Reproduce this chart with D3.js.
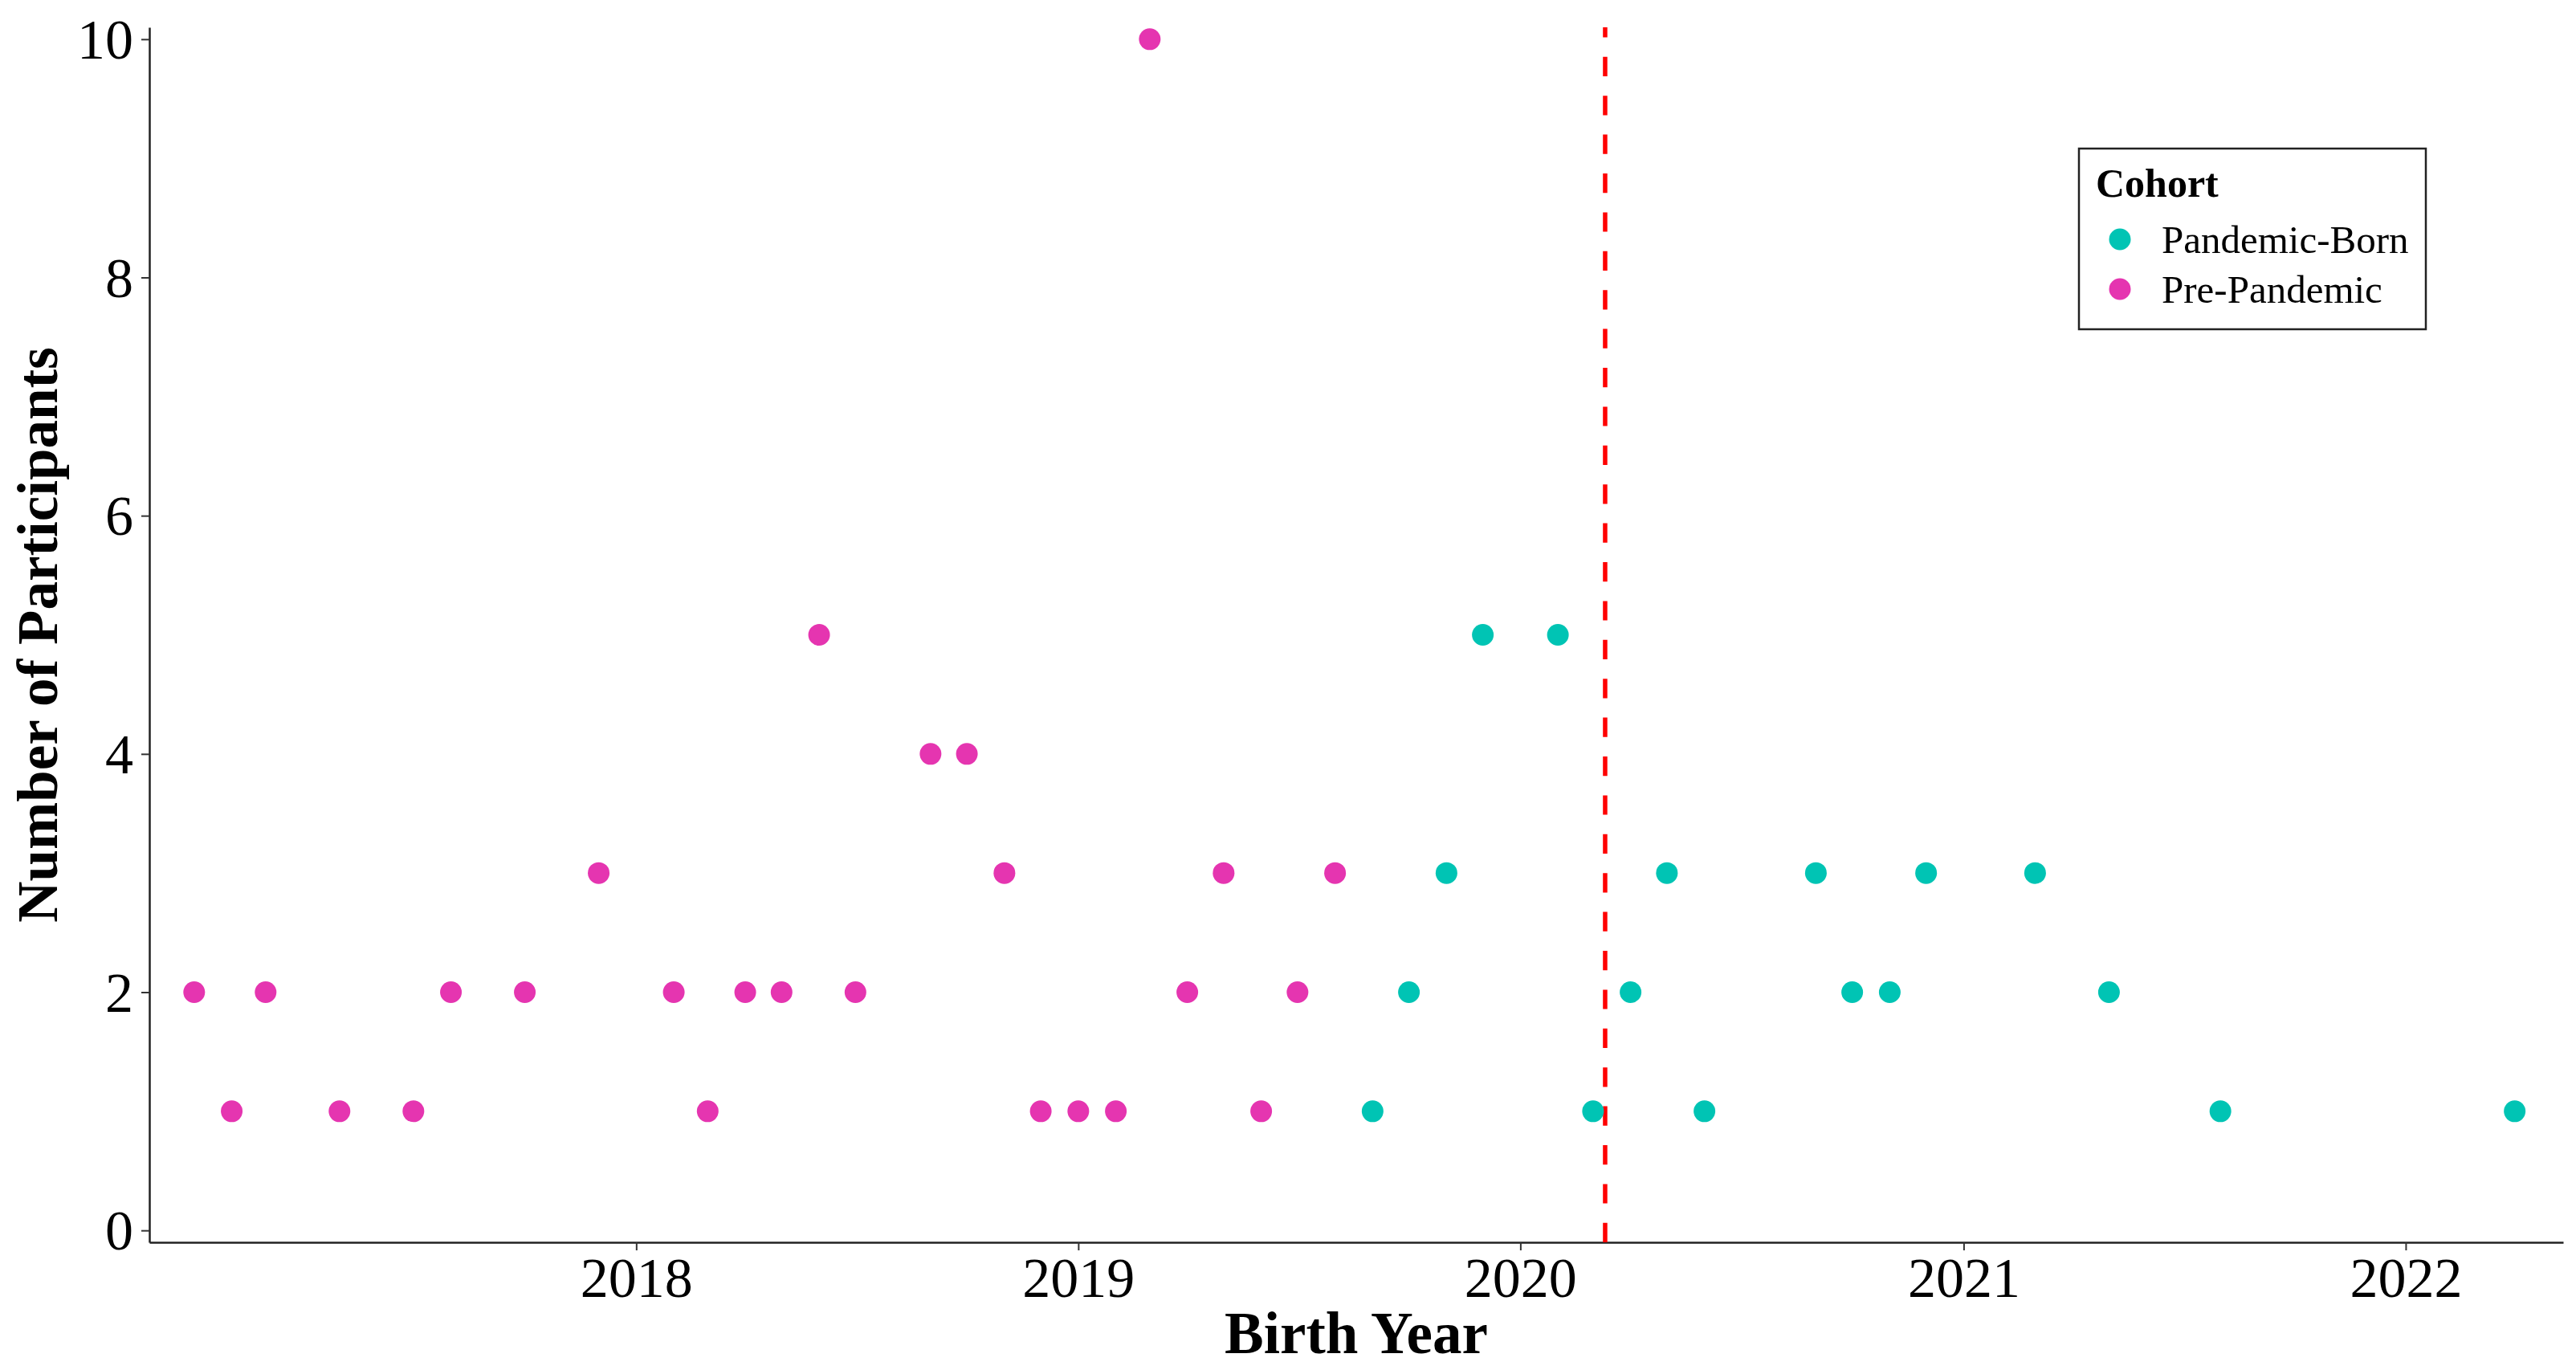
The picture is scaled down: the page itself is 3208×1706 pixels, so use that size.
<!DOCTYPE html>
<html>
<head>
<meta charset="utf-8">
<script src="https://cdn.jsdelivr.net/npm/d3@7"></script>
<style>
  body { margin: 0; background: #fff; }
  svg { display: block; font-family: "Liberation Serif", "Times New Roman", serif; }
</style>
</head>
<body>
<svg id="chart"></svg>
<script>
// Pre-pandemic births (month, number of participants)
const preMonths = [
  "2017-01", "2017-02", "2017-03", "2017-05", "2017-07", "2017-08", "2017-10", "2017-12",
  "2018-02", "2018-03", "2018-04", "2018-05", "2018-06", "2018-07", "2018-09", "2018-10",
  "2018-11", "2018-12", "2019-01", "2019-02", "2019-03", "2019-04", "2019-05", "2019-06",
  "2019-07", "2019-08"
];
const preCounts = [2, 1, 2, 1, 1, 2, 2, 3, 2, 1, 2, 2, 5, 2, 4, 4, 3, 1, 1, 1, 10, 2, 3, 1, 2, 3];

// Pandemic-born births
const pandemicMonths = [
  "2019-09", "2019-10", "2019-11", "2019-12", "2020-02", "2020-03", "2020-04", "2020-05",
  "2020-06", "2020-09", "2020-10", "2020-11", "2020-12", "2021-03", "2021-05", "2021-08",
  "2022-04"
];
const pandemicCounts = [1, 2, 3, 5, 5, 1, 2, 3, 1, 3, 2, 2, 3, 3, 2, 1, 1];

const cohortNames = ["Pandemic-Born", "Pre-Pandemic"];
const cohortColors = ["#00C4B4", "#E535B0"];
const xTickYears = [2018, 2019, 2020, 2021, 2022];
const yTicks = [0, 2, 4, 6, 8, 10];
const pandemicStart = "2020-03-11";

const width = 3208;
const height = 1706;
const margin = { top: 34, right: 16, bottom: 159, left: 186 };

const parseMonth = d3.timeParse("%Y-%m");
const parseDay = d3.timeParse("%Y-%m-%d");

const points = [
  ...preMonths.map((m, i) => ({ date: parseMonth(m), n: preCounts[i], cohort: cohortNames[1] })),
  ...pandemicMonths.map((m, i) => ({ date: parseMonth(m), n: pandemicCounts[i], cohort: cohortNames[0] }))
];

const svg = d3.select("#chart").attr("width", width).attr("height", height);

const x = d3
  .scaleTime()
  .domain([parseDay("2016-11-25"), parseDay("2022-05-11")])
  .range([margin.left, width - margin.right]);

const y = d3
  .scaleLinear()
  .domain([-0.1, 10.1])
  .range([height - margin.bottom, margin.top]);

const color = d3.scaleOrdinal().domain(cohortNames).range(cohortColors);

// Axes
const xAxis = svg
  .append("g")
  .attr("transform", `translate(0, ${height - margin.bottom})`)
  .call(
    d3.axisBottom(x)
      .tickValues(xTickYears.map((yr) => new Date(yr, 0, 1)))
      .tickFormat(d3.timeFormat("%Y"))
      .tickSize(10)
      .tickPadding(8)
      .tickSizeOuter(0)
  );

const yAxis = svg
  .append("g")
  .attr("transform", `translate(${margin.left}, 0)`)
  .call(d3.axisLeft(y).tickValues(yTicks).tickSize(10).tickPadding(10).tickSizeOuter(0));

[xAxis, yAxis].forEach((ax) => {
  ax.select(".domain").attr("stroke", "#222").attr("stroke-width", 2.5);
  ax.selectAll(".tick line").attr("stroke", "#333").attr("stroke-width", 2);
  ax.selectAll(".tick text")
    .attr("fill", "#000")
    .style("font-family", "Liberation Serif")
    .style("font-size", "70px");
});
yAxis.selectAll(".tick text").attr("dy", "0.34em");

// Pandemic declaration line, drawn bottom-up so dashes start at the axis
svg
  .append("line")
  .attr("x1", x(parseDay(pandemicStart)))
  .attr("x2", x(parseDay(pandemicStart)))
  .attr("y1", height - margin.bottom)
  .attr("y2", margin.top)
  .attr("stroke", "#FF0000")
  .attr("stroke-width", 5.5)
  .attr("stroke-dasharray", "24.2,24.2");

// Points
svg
  .append("g")
  .selectAll("circle")
  .data(points)
  .enter()
  .append("circle")
  .attr("cx", (d) => x(d.date))
  .attr("cy", (d) => y(d.n))
  .attr("r", 13.5)
  .attr("fill", (d) => color(d.cohort));

// Axis titles
svg
  .append("text")
  .attr("x", (margin.left + width - margin.right) / 2)
  .attr("y", 1685)
  .attr("text-anchor", "middle")
  .style("font-size", "73px")
  .style("font-weight", "bold")
  .text("Birth Year");

svg
  .append("text")
  .attr("transform", `translate(71, ${(margin.top + height - margin.bottom) / 2}) rotate(-90)`)
  .attr("text-anchor", "middle")
  .style("font-size", "71px")
  .style("font-weight", "bold")
  .text("Number of Participants");

// Legend
const legend = svg.append("g").attr("transform", "translate(2589, 185)");

legend
  .append("rect")
  .attr("width", 432)
  .attr("height", 225)
  .attr("fill", "#fff")
  .attr("stroke", "#222")
  .attr("stroke-width", 2.5);

legend
  .append("text")
  .attr("x", 21)
  .attr("y", 60)
  .style("font-size", "50px")
  .style("font-weight", "bold")
  .text("Cohort");

const items = legend
  .selectAll(".item")
  .data(cohortNames)
  .enter()
  .append("g")
  .attr("class", "item")
  .attr("transform", (d, i) => `translate(0, ${113 + i * 62})`);

items
  .append("circle")
  .attr("cx", 51)
  .attr("cy", 0)
  .attr("r", 13.5)
  .attr("fill", (d) => color(d));

items
  .append("text")
  .attr("x", 103)
  .attr("y", 17)
  .style("font-size", "49px")
  .text((d) => d);
</script>
</body>
</html>
